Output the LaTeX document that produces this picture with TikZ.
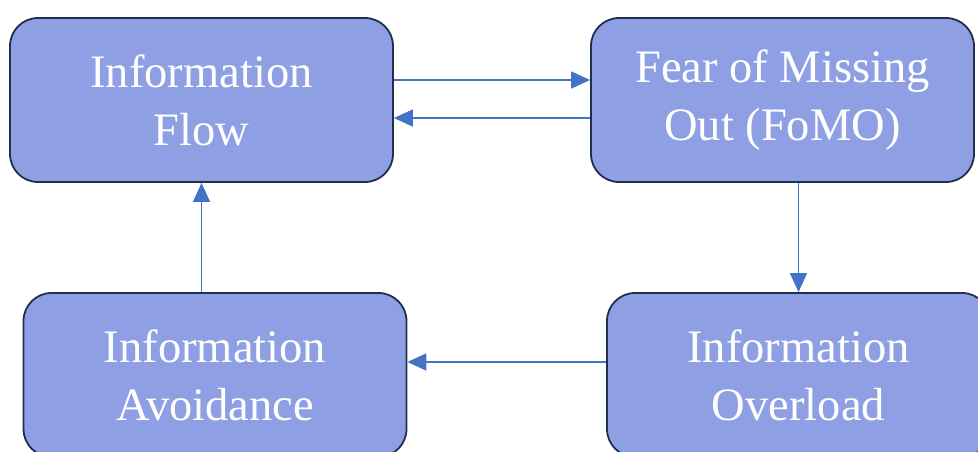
\documentclass[tikz,border=0pt]{standalone}
\usepackage{fontspec}
\setmainfont{Liberation Serif}
\usepackage{tikz}
\usetikzlibrary{arrows.meta,positioning}
\usepackage{xcolor}
\definecolor{BoxFill}{HTML}{8F9FE3}
\definecolor{BoxLine}{HTML}{1F2F50}
\definecolor{FlowBlue}{HTML}{4472C4}
\tikzset{
  cycle node/.style={draw=BoxLine,fill=BoxFill,rounded corners=28pt,line width=1.8pt,
    align=center,text=white,font=\fontsize{46.5}{58}\selectfont,
    minimum width=383pt,minimum height=164pt,inner sep=0pt},
  cycle arrow/.style={-{Triangle[length=19pt,width=17pt]},draw=FlowBlue,line width=1.4pt}
}
\begin{document}
\begin{tikzpicture}[x=1pt,y=-1pt]
  \useasboundingbox (0,0) rectangle (978,451);
  \node[cycle node] (flow) at (201.5,100) {Information\\Flow};
  \node[cycle node] (fomo) at (782.5,100) {Fear of Missing\\Out (FoMO)};
  \node[cycle node] (avoid) at (215,375) {Information\\Avoidance};
  \node[cycle node] (overload) at (798.5,375) {Information\\Overload};
  \draw[cycle arrow] ([yshift=20pt]flow.east) -- ([yshift=20pt]fomo.west);
  \draw[cycle arrow] ([yshift=-18pt]fomo.west) -- ([yshift=-18pt]flow.east);
  \draw[cycle arrow] (fomo.south -| overload.north) -- (overload.north);
  \draw[cycle arrow] ([yshift=13pt]overload.west) -- ([yshift=13pt]avoid.east);
  \draw[cycle arrow] (avoid.north -| flow.south) -- (flow.south);
\end{tikzpicture}
\end{document}
